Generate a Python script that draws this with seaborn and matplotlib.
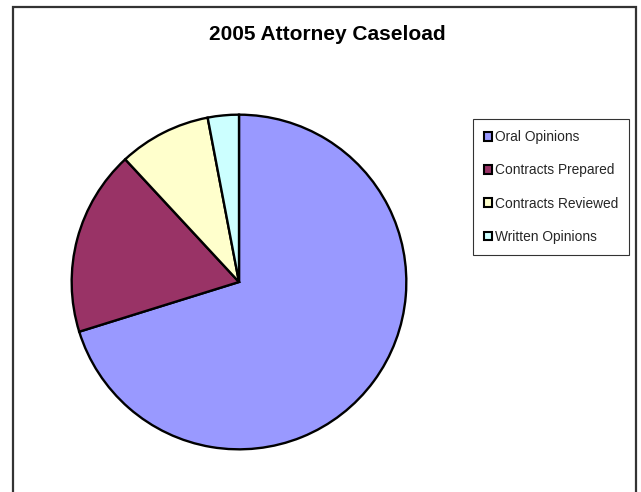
import matplotlib
matplotlib.use("Agg")
import matplotlib.pyplot as plt
import seaborn as sns
from matplotlib.patches import Rectangle, Patch

categories = ["Oral Opinions", "Contracts Prepared", "Contracts Reviewed", "Written Opinions"]
values = [70.2, 17.9, 8.9, 3.0]
colors = ["#9999FF", "#993366", "#FFFFCC", "#CCFFFF"]
title = "2005 Attorney Caseload"

sns.set_theme(style="white")
plt.rcParams["font.family"] = ["Liberation Sans", "DejaVu Sans"]

W, H = 641, 492
fig = plt.figure(figsize=(W / 100, H / 100), dpi=100)
fig.patch.set_facecolor("white")

# outer chart frame (bottom edge lies outside the image)
fig.add_artist(Rectangle((13 / W, -20 / H), (636 - 13) / W, (H - 6.5 + 20) / H,
                         transform=fig.transFigure, fill=False,
                         edgecolor="#333333", linewidth=1.6))

cx, cy, r = 239, 282, 169
ax = fig.add_axes([(cx - r) / W, (H - cy - r) / H, 2 * r / W, 2 * r / H])
ax.pie(values, colors=colors, startangle=90, counterclock=False,
       wedgeprops=dict(edgecolor="black", linewidth=1.7))
ax.set_xlim(-1.01, 1.01)
ax.set_ylim(-1.01, 1.01)
ax.set_aspect("equal")
ax.axis("off")

fig.text(327 / W, 1 - 35 / H, title, ha="center", va="center",
         fontsize=15, fontweight="bold", color="black")

handles = [Patch(facecolor=c, edgecolor="black", linewidth=1.5) for c in colors]
leg = fig.legend(handles, categories, loc="upper left",
                 bbox_to_anchor=(473 / W, 1 - 119 / H),
                 frameon=True, fancybox=False, fontsize=9.9,
                 handlelength=0.6, handleheight=0.6, handletextpad=0.2,
                 labelspacing=1.4, borderpad=0.8, borderaxespad=0)
leg.get_frame().set_edgecolor("black")
leg.get_frame().set_linewidth(0.8)

fig.savefig("out.png", dpi=100, facecolor="white")
